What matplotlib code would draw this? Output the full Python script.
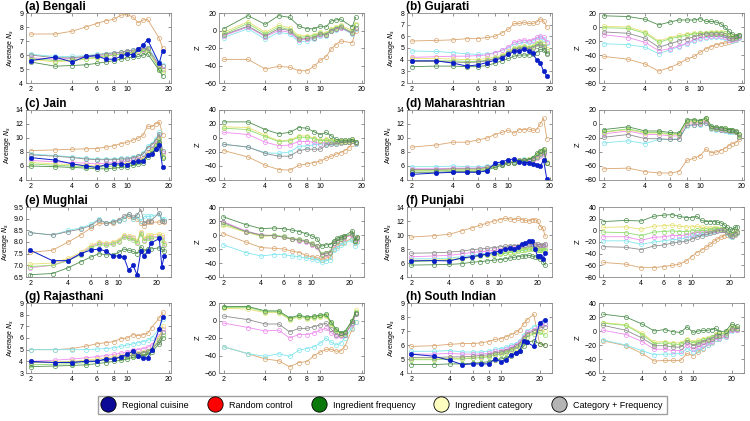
import matplotlib
matplotlib.use("Agg")
import matplotlib.pyplot as plt
from matplotlib.lines import Line2D

plt.rcParams['font.family'] = ['Liberation Sans', 'DejaVu Sans']

# null model colours, in the order the null lists below are written:
# tan, cyan, pink, yellow, light green, gray, dark green
null_colors = ["#D9A56E", "#7FE6EE", "#EE8AEE", "#E6E070", "#8FDC6A", "#8C8C8C", "#4E8E4E"]
blue = "#0A1EC8"

# ---------------- Bengali ----------------
bengali_x = [2, 3, 4, 5, 6, 7, 8, 9, 10, 11, 12, 13, 14, 17, 18]
bengali_regional = [5.6, 5.85, 5.5, 5.9, 5.95, 5.7, 5.7, 5.9, 6.1, 6.0, 6.4, 6.7, 7.1, 5.4, 6.3]
bengali_ns = [
    [7.5, 7.5, 7.7, 8.0, 8.25, 8.45, 8.55, 8.85, 8.9, 8.7, 8.3, 8.5, 8.55, 7.2, 6.5],
    [6.05, 5.9, 5.9, 5.95, 6.05, 6.1, 6.15, 6.2, 6.3, 6.35, 6.4, 6.45, 6.5, 5.5, 5.3],
    [5.8, 5.7, 5.75, 5.85, 5.95, 6.0, 6.05, 6.1, 6.2, 6.25, 6.3, 6.35, 6.4, 5.2, 5.0],
    [5.7, 5.5, 5.6, 5.7, 5.8, 5.9, 6.0, 6.05, 6.1, 6.15, 6.2, 6.3, 6.35, 5.1, 4.9],
    [5.75, 5.6, 5.65, 5.75, 5.85, 5.95, 6.0, 6.05, 6.15, 6.2, 6.25, 6.3, 6.4, 5.0, 4.8],
    [6.0, 5.8, 5.8, 5.9, 6.0, 6.1, 6.15, 6.2, 6.3, 6.35, 6.4, 6.45, 6.5, 5.3, 5.2],
    [5.5, 5.2, 5.25, 5.3, 5.4, 5.5, 5.6, 5.7, 5.8, 5.85, 5.9, 6.0, 6.1, 4.9, 4.5],
]
bengali_z = [
    [-33, -33, -44, -41, -42, -46, -46, -41, -34, -30, -21, -16, -12, -14, -1],
    [-8, 2, -10, -2, -4, -13, -12, -10, -6, -6, -1, 1, 3, -4, 2],
    [-6, 4, -7, 0, -2, -11, -10, -9, -5, -5, 0, 2, 3, -3, 3],
    [-2, 10, -2, 6, 3, -6, -6, -5, -2, -3, 2, 4, 6, 0, 8],
    [-4, 8, -4, 4, 1, -8, -7, -6, -3, -4, 1, 3, 5, -2, 6],
    [-5, 5, -6, 2, 0, -10, -9, -8, -4, -5, 0, 2, 4, -3, 3],
    [2, 17, 7, 17, 15, 5, 2, 2, 5, 4, 11, 12, 13, 4, 15],
]

# ---------------- Gujarati ----------------
gujarati_x = list(range(2, 20))
gujarati_regional = [3.9, 3.9, 3.7, 3.45, 3.55, 3.75, 3.95, 4.15, 4.45, 4.7, 4.75, 4.9, 4.75, 4.55, 4.0, 3.75, 3.0, 2.6]
gujarati_ns = [
    [5.6, 5.65, 5.7, 5.8, 5.8, 5.9, 6.0, 6.3, 6.6, 7.1, 7.1, 7.2, 7.1, 7.1, 7.2, 7.5, 7.3, 6.8],
    [4.75, 4.7, 4.6, 4.5, 4.45, 4.5, 4.6, 4.8, 5.0, 5.3, 5.4, 5.5, 5.5, 5.6, 5.8, 5.9, 5.8, 5.4],
    [4.2, 4.25, 4.3, 4.3, 4.35, 4.4, 4.6, 4.8, 5.1, 5.5, 5.6, 5.7, 5.6, 5.7, 5.9, 6.0, 5.9, 5.5],
    [4.1, 4.1, 4.05, 4.0, 4.0, 4.1, 4.2, 4.4, 4.7, 5.0, 5.1, 5.2, 5.1, 5.2, 5.4, 5.5, 5.3, 4.9],
    [3.9, 3.9, 3.9, 3.85, 3.85, 3.95, 4.1, 4.3, 4.6, 4.9, 5.0, 5.1, 5.0, 5.1, 5.3, 5.4, 5.2, 4.7],
    [3.85, 3.85, 3.8, 3.75, 3.8, 3.9, 4.05, 4.25, 4.55, 4.85, 4.95, 5.0, 4.95, 5.0, 5.2, 5.3, 5.1, 4.6],
    [3.4, 3.45, 3.45, 3.4, 3.4, 3.5, 3.7, 3.9, 4.1, 4.3, 4.4, 4.4, 4.4, 4.5, 4.6, 4.9, 4.8, 4.5],
]
gujarati_z = [
    [-42, -46, -53, -63, -58, -52, -46, -42, -36, -31, -28, -25, -24, -23, -22, -20, -18, -16],
    [-24, -25, -29, -38, -33, -28, -24, -20, -17, -15, -14, -14, -14, -15, -19, -20, -18, -15],
    [-11, -15, -22, -34, -31, -27, -23, -18, -15, -14, -13, -13, -13, -14, -18, -19, -17, -14],
    [1, 0, -7, -20, -15, -12, -10, -9, -8, -8, -7, -7, -7, -8, -12, -14, -13, -11],
    [-1, -2, -9, -22, -17, -14, -12, -10, -9, -9, -8, -8, -8, -9, -13, -15, -14, -12],
    [-7, -9, -16, -29, -24, -20, -17, -14, -11, -10, -10, -10, -10, -12, -15, -17, -16, -13],
    [16, 15, 11, 3, 7, 10, 10, 10, 12, 8, 8, 7, 5, 0, -6, -10, -13, -11],
]

# ---------------- Jain ----------------
jain_x = list(range(2, 19))
jain_regional = [7.2, 6.85, 6.3, 6.0, 5.8, 6.2, 6.3, 6.3, 6.2, 6.6, 6.7, 6.7, 7.6, 7.7, 8.4, 9.0, 5.8]
jain_ns = [
    [8.2, 8.3, 8.4, 8.45, 8.5, 8.7, 8.9, 9.2, 9.4, 9.7, 10.0, 10.4, 11.7, 11.6, 12.0, 12.3, 10.5],
    [7.7, 7.5, 7.3, 7.1, 7.0, 7.0, 7.0, 7.1, 7.1, 7.3, 7.5, 7.8, 8.8, 9.2, 9.8, 10.8, 8.0],
    [6.8, 6.6, 6.5, 6.4, 6.3, 6.4, 6.5, 6.6, 6.7, 6.8, 7.0, 7.2, 8.0, 8.5, 9.2, 10.2, 7.8],
    [6.5, 6.3, 6.2, 6.1, 6.0, 6.1, 6.2, 6.3, 6.4, 6.6, 6.8, 7.0, 7.8, 8.3, 9.0, 10.0, 7.5],
    [6.3, 6.1, 6.0, 5.9, 5.8, 5.9, 6.0, 6.1, 6.2, 6.4, 6.6, 6.8, 7.6, 8.1, 8.8, 9.8, 7.3],
    [7.6, 7.4, 7.2, 7.0, 6.9, 6.9, 6.9, 7.0, 7.0, 7.2, 7.4, 7.7, 8.6, 9.0, 9.6, 10.6, 8.2],
    [6.0, 5.9, 5.8, 5.7, 5.6, 5.6, 5.7, 5.8, 5.9, 6.1, 6.3, 6.5, 7.3, 7.8, 8.5, 9.5, 7.1],
]
jain_z = [
    [-18, -27, -39, -45, -46, -39, -37, -35, -33, -29, -26, -23, -21, -18, -14, -8, -8],
    [-9, -13, -21, -22, -20, -12, -11, -10, -9, -8, -7, -7, -6, -5, -5, -4, -8],
    [8, 5, -6, -11, -10, -5, -5, -6, -8, -6, -6, -6, -6, -5, -5, -4, -7],
    [16, 15, 4, -4, -3, 3, 3, 0, -3, -2, -3, -4, -4, -4, -4, -3, -5],
    [14, 12, 2, -5, -4, 1, 1, -1, -4, -3, -4, -5, -5, -5, -5, -4, -6],
    [-9, -13, -22, -26, -26, -18, -16, -16, -16, -10, -9, -8, -7, -6, -5, -4, -7],
    [23, 23, 12, 6, 8, 15, 14, 9, 5, 8, 3, -2, -3, -3, -3, -2, -6],
]

# ---------------- Maharashtrian ----------------
maha_x = list(range(2, 20))
maha_regional = [4.8, 5.0, 5.1, 5.1, 5.1, 5.3, 6.4, 6.6, 6.9, 7.0, 6.6, 6.5, 6.5, 6.3, 6.2, 6.0, 6.8, 4.1]
maha_ns = [
    [8.7, 9.0, 9.4, 9.4, 9.7, 10.0, 10.5, 10.8, 11.1, 10.7, 11.2, 11.2, 11.3, 11.1, 11.2, 12.0, 12.8, 9.9],
    [5.9, 5.9, 6.0, 5.9, 5.9, 6.0, 6.2, 6.4, 6.6, 6.7, 6.9, 7.0, 7.0, 7.1, 7.3, 7.6, 7.9, 6.5],
    [5.6, 5.6, 5.7, 5.7, 5.7, 5.8, 6.0, 6.2, 6.4, 6.5, 6.7, 6.8, 6.8, 6.9, 7.1, 7.4, 7.7, 6.4],
    [5.4, 5.4, 5.5, 5.5, 5.5, 5.7, 6.0, 6.3, 6.6, 6.6, 6.8, 6.9, 7.0, 7.2, 7.6, 8.0, 8.3, 6.6],
    [5.3, 5.3, 5.4, 5.4, 5.4, 5.6, 5.9, 6.2, 6.5, 6.5, 6.7, 6.8, 6.9, 7.1, 7.5, 7.9, 8.2, 6.4],
    [5.5, 5.5, 5.6, 5.6, 5.6, 5.8, 6.1, 6.3, 6.5, 6.6, 6.8, 6.9, 6.9, 7.0, 7.3, 7.7, 8.0, 6.5],
    [5.1, 5.1, 5.2, 5.2, 5.2, 5.4, 5.8, 6.1, 6.4, 6.5, 6.7, 6.8, 6.9, 7.2, 7.8, 8.2, 8.5, 6.5],
]
maha_z = [
    [-64, -63, -68, -70, -70, -68, -52, -49, -45, -36, -41, -40, -38, -35, -31, -28, -27, -22],
    [-27, -24, -28, -22, -22, -21, -3, -2, -1, 1, -7, -8, -9, -10, -11, -11, -12, -19],
    [-14, -10, -15, -15, -17, -17, 1, 2, 2, 5, -5, -6, -7, -8, -9, -9, -11, -17],
    [-12, -8, -13, -13, -15, -15, 3, 4, 3, 7, -5, -5, -6, -7, -9, -9, -11, -17],
    [-11, -7, -12, -12, -14, -14, 4, 5, 4, 8, -4, -5, -6, -7, -8, -9, -11, -16],
    [-19, -15, -21, -21, -22, -22, -2, -1, 0, 2, -6, -7, -8, -9, -10, -10, -12, -18],
    [-8, -4, -10, -10, -12, -13, 6, 6, 5, 9, -3, -4, -5, -6, -8, -8, -10, -14],
]

# ---------------- Mughlai ----------------
mughlai_x = [2, 3, 4, 5, 6, 7, 8, 9, 10, 11, 12, 13, 14, 15, 16, 17, 18, 21, 22, 23]
mughlai_regional = [7.65, 7.2, 7.2, 7.5, 7.65, 7.7, 7.6, 7.4, 7.4, 7.35, 6.8, 7.0, 6.6, 7.6, 7.4, 7.6, 7.95, 8.15, 6.95, 7.4]
mughlai_ns = [
    [7.55, 7.65, 8.0, 8.3, 8.6, 8.8, 8.8, 8.8, 8.9, 9.0, 9.1, 9.0, 9.0, 8.8, 8.7, 8.85, 8.85, 8.85, 8.9, 8.85],
    [8.4, 8.3, 8.5, 8.6, 8.75, 9.0, 8.8, 8.9, 8.9, 9.0, 9.2, 9.0, 9.1, 8.9, 9.1, 9.1, 9.1, 9.2, 9.0, 9.0],
    [6.9, 7.0, 7.25, 7.5, 7.8, 7.95, 7.9, 7.95, 8.05, 8.25, 8.2, 8.15, 8.0, 8.4, 8.1, 8.2, 8.2, 8.25, 8.2, 7.9],
    [7.05, 7.1, 7.3, 7.55, 7.85, 8.0, 7.95, 8.0, 8.1, 8.3, 8.25, 8.2, 8.05, 8.45, 8.15, 8.3, 8.3, 8.35, 8.3, 7.95],
    [6.95, 7.0, 7.2, 7.45, 7.75, 7.9, 7.85, 7.9, 8.0, 8.2, 8.15, 8.1, 7.95, 8.35, 8.05, 8.15, 8.15, 8.2, 8.1, 7.85],
    [8.4, 8.3, 8.45, 8.55, 8.7, 8.95, 8.8, 8.85, 8.95, 9.1, 9.2, 9.05, 9.15, 9.4, 8.8, 8.9, 8.9, 9.25, 8.9, 8.9],
    [6.6, 6.65, 6.9, 7.15, 7.35, 7.5, 7.45, 7.45, 7.55, 7.7, 7.65, 7.6, 7.5, 7.8, 7.6, 7.7, 7.7, 7.75, 7.7, 7.6],
]
mughlai_z = [
    [2, -10, -18, -19, -20, -23, -25, -29, -31, -32, -35, -33, -32, -20, -16, -12, -10, -5, -12, -8],
    [-14, -25, -30, -28, -28, -30, -31, -33, -34, -35, -39, -37, -35, -22, -18, -14, -12, -7, -15, -10],
    [19, 6, 0, -1, -3, -6, -8, -10, -14, -17, -29, -27, -26, -13, -9, -6, -4, 0, -9, -5],
    [14, 4, -2, -1, -3, -6, -7, -9, -13, -16, -28, -26, -25, -12, -8, -5, -3, 1, -8, -4],
    [16, 5, -1, 0, -2, -5, -6, -8, -12, -15, -27, -25, -24, -11, -7, -4, -2, 2, -7, -3],
    [18, 5, 0, -1, -3, -6, -7, -9, -13, -16, -28, -26, -25, -12, -8, -5, -3, 1, -8, -4],
    [26, 15, 9, 10, 9, 7, 5, 2, -1, -5, -16, -14, -14, -8, -4, -3, -2, 6, -8, -3],
]

# ---------------- Punjabi ----------------
punjabi_x = list(range(2, 24))
punjabi_regional = [6.3, 6.35, 6.3, 6.7, 6.9, 7.1, 7.3, 7.5, 7.7, 8.0, 8.1, 8.0, 8.3, 8.7, 8.9, 9.1, 9.1, 8.0, 7.0, 7.0, 6.6, 7.4]
punjabi_ns = [
    [9.7, 9.9, 10.1, 10.6, 11.0, 11.4, 11.7, 12.0, 12.2, 12.4, 12.3, 12.2, 12.4, 12.2, 12.1, 12.0, 12.2, 12.2, 12.0, 11.2, 11.0, 9.8],
    [6.6, 6.6, 6.7, 6.9, 7.1, 7.3, 7.4, 7.5, 7.6, 7.7, 7.8, 7.9, 8.0, 8.1, 8.2, 8.3, 8.3, 8.3, 8.2, 8.1, 8.1, 8.3],
    [6.9, 7.0, 7.1, 7.3, 7.5, 7.6, 7.7, 7.8, 7.9, 8.0, 8.1, 8.2, 8.3, 8.4, 8.5, 8.6, 8.6, 8.6, 8.5, 8.4, 8.4, 8.6],
    [6.4, 6.4, 6.5, 6.7, 6.9, 7.1, 7.2, 7.3, 7.4, 7.5, 7.6, 7.7, 7.8, 7.9, 8.0, 8.1, 8.1, 8.1, 8.0, 7.9, 7.9, 8.1],
    [6.2, 6.3, 6.4, 6.6, 6.8, 7.0, 7.1, 7.2, 7.3, 7.4, 7.5, 7.6, 7.7, 7.8, 7.9, 8.0, 8.0, 8.0, 7.9, 7.8, 7.8, 7.9],
    [7.4, 7.45, 7.55, 7.7, 7.9, 8.0, 8.1, 8.2, 8.3, 8.4, 8.45, 8.5, 8.5, 8.55, 8.6, 8.7, 8.7, 8.7, 8.65, 8.6, 8.6, 8.7],
    [5.7, 5.75, 5.8, 5.9, 6.1, 6.2, 6.3, 6.4, 6.5, 6.6, 6.7, 6.8, 6.9, 7.0, 7.0, 7.1, 7.0, 6.9, 6.8, 6.6, 6.2, 5.7],
]
punjabi_z = [
    [-55, -58, -64, -64, -62, -60, -58, -53, -45, -38, -34, -29, -24, -19, -15, -12, -9, -8, -10, -12, -8, -5],
    [-18, -18, -24, -20, -18, -16, -15, -13, -10, -7, -6, -4, -3, -1, 0, 1, 0, -4, -9, -11, -7, -4],
    [-11, -11, -17, -12, -11, -9, -9, -8, -6, -4, -3, -2, -1, 0, 1, 1, 0, -3, -7, -9, -5, -3],
    [5, 6, 2, 7, 8, 9, 7, 6, 6, 7, 5, 4, 4, 4, 4, 3, 2, -2, -5, -6, -3, -1],
    [-3, -4, -9, -3, -2, -1, -2, -2, -1, 0, 0, 0, 1, 2, 3, 3, 2, -2, -6, -7, -4, -2],
    [-28, -29, -33, -27, -25, -22, -20, -19, -15, -12, -9, -7, -5, -3, -1, 0, 0, -3, -8, -10, -6, -3],
    [15, 17, 16, 24, 26, 27, 24, 22, 22, 24, 17, 15, 15, 15, 14, 13, 10, 5, 2, 0, 5, 6],
]

# ---------------- Rajasthani ----------------
raj_x = [2, 3, 4, 5, 6, 7, 8, 9, 10, 11, 12, 13, 14, 15, 17, 18]
raj_regional = [4.0, 3.9, 3.9, 4.0, 4.0, 4.2, 4.2, 4.4, 4.6, 4.9, 4.5, 4.3, 4.3, 5.0, 6.8, 7.8]
raj_ns = [
    [5.0, 5.0, 5.1, 5.3, 5.5, 5.6, 5.7, 5.95, 6.0, 6.3, 6.2, 6.3, 6.4, 6.9, 7.7, 8.2],
    [5.0, 5.0, 5.0, 5.0, 5.05, 5.1, 5.15, 5.3, 5.4, 5.5, 5.6, 5.7, 5.8, 6.0, 6.8, 7.6],
    [4.0, 4.1, 4.2, 4.3, 4.4, 4.5, 4.6, 4.7, 4.8, 5.0, 5.0, 5.1, 5.2, 5.4, 6.2, 6.8],
    [3.9, 3.95, 4.0, 4.1, 4.2, 4.3, 4.4, 4.5, 4.6, 4.7, 4.7, 4.8, 4.9, 5.1, 6.0, 7.0],
    [3.7, 3.75, 3.8, 3.9, 4.0, 4.1, 4.2, 4.3, 4.4, 4.5, 4.6, 4.7, 4.8, 5.0, 5.8, 6.3],
    [3.9, 3.9, 3.95, 4.0, 4.05, 4.15, 4.25, 4.35, 4.45, 4.55, 4.65, 4.75, 4.85, 5.0, 5.7, 6.5],
    [3.55, 3.6, 3.65, 3.7, 3.8, 3.9, 4.0, 4.1, 4.2, 4.35, 4.45, 4.5, 4.6, 4.8, 5.5, 6.0],
]
raj_z = [
    [-30, -38, -44, -46, -53, -48, -47, -40, -36, -33, -33, -35, -35, -30, -10, -2],
    [-30, -38, -41, -38, -41, -34, -32, -30, -26, -20, -25, -28, -26, -20, -8, -2],
    [-3, -8, -12, -11, -20, -16, -16, -14, -11, -9, -14, -18, -18, -17, -4, 7],
    [14, 13, 9, 9, 1, 4, 2, 3, 4, 5, -4, -12, -15, -14, 0, 12],
    [15, 15, 10, 10, 2, 5, 3, 4, 5, 6, -3, -11, -14, -14, 0, 10],
    [5, 1, -4, -4, -13, -9, -9, -7, -5, -3, -10, -16, -17, -16, -3, 8],
    [16, 16, 11, 11, 3, 6, 4, 5, 6, 7, -2, -10, -14, -13, 0, 9],
]

# ---------------- South Indian ----------------
south_x = [2, 3, 4, 5, 6, 7, 8, 9, 10, 11, 12, 13, 14, 15, 16, 18, 20, 22]
south_regional = [5.35, 5.2, 4.9, 4.6, 4.65, 4.65, 4.65, 5.0, 4.8, 4.95, 5.3, 5.4, 5.6, 6.3, 6.2, 5.9, 7.6, 7.8]
south_ns = [
    [5.9, 5.95, 6.05, 6.1, 6.1, 6.15, 6.25, 6.4, 6.45, 6.6, 6.75, 6.9, 7.1, 7.5, 7.8, 8.2, 6.1, 6.0],
    [5.55, 5.55, 5.6, 5.5, 5.5, 5.5, 5.55, 5.7, 5.75, 5.85, 6.0, 6.1, 6.3, 6.7, 7.0, 7.3, 7.5, 7.55],
    [5.35, 5.35, 5.4, 5.35, 5.35, 5.35, 5.4, 5.55, 5.6, 5.7, 5.85, 6.0, 6.2, 6.6, 6.9, 7.1, 7.4, 7.5],
    [5.0, 5.0, 5.05, 5.05, 5.1, 5.15, 5.2, 5.35, 5.4, 5.5, 5.65, 5.8, 6.0, 6.4, 6.7, 6.9, 7.0, 7.0],
    [4.95, 4.95, 5.0, 5.0, 5.05, 5.1, 5.15, 5.3, 5.35, 5.45, 5.6, 5.75, 5.95, 6.3, 6.6, 6.8, 6.9, 6.7],
    [5.1, 5.1, 5.15, 5.15, 5.2, 5.25, 5.3, 5.45, 5.5, 5.6, 5.75, 5.9, 6.1, 6.5, 6.8, 7.0, 7.2, 7.3],
    [4.6, 4.6, 4.65, 4.65, 4.7, 4.75, 4.8, 4.95, 5.0, 5.1, 5.25, 5.4, 5.6, 5.9, 6.2, 6.3, 6.1, 6.0],
]
south_z = [
    [-14, -21, -32, -43, -42, -42, -42, -32, -35, -30, -25, -20, -16, -12, -11, -8, 1, 2],
    [-13, -20, -28, -34, -33, -33, -32, -25, -30, -27, -24, -20, -17, -12, -12, -9, 0, 1],
    [1, -5, -15, -26, -26, -28, -28, -20, -26, -23, -20, -17, -14, -9, -10, -7, 1, 2],
    [12, 9, -3, -16, -15, -17, -17, -11, -15, -13, -11, -10, -8, -4, -4, -2, 6, 5],
    [11, 8, -5, -18, -17, -19, -19, -13, -17, -15, -13, -11, -9, -5, -5, -3, 5, 4],
    [8, 1, -10, -21, -21, -23, -23, -15, -21, -18, -15, -13, -11, -7, -7, -5, 3, 3],
    [24, 20, 10, 0, 2, -1, -2, 6, -2, 0, 1, 1, 2, 4, -1, 0, 10, 7],
]

# (title, x, regional, ns, z, ns ylim, ns ticks, z ylim, x max)
panels = [
    ("(a) Bengali", bengali_x, bengali_regional, bengali_ns, bengali_z, (4, 9), [4, 5, 6, 7, 8, 9], (-60, 20), 20.7),
    ("(b) Gujarati", gujarati_x, gujarati_regional, gujarati_ns, gujarati_z, (2, 8), [2, 3, 4, 5, 6, 7, 8], (-80, 20), 20.7),
    ("(c) Jain", jain_x, jain_regional, jain_ns, jain_z, (4, 14), [4, 6, 8, 10, 12, 14], (-60, 40), 20.7),
    ("(d) Maharashtrian", maha_x, maha_regional, maha_ns, maha_z, (4, 14), [4, 6, 8, 10, 12, 14], (-80, 20), 20.7),
    ("(e) Mughlai", mughlai_x, mughlai_regional, mughlai_ns, mughlai_z, (6.5, 9.5), [6.5, 7, 7.5, 8, 8.5, 9, 9.5], (-60, 40), 26),
    ("(f) Punjabi", punjabi_x, punjabi_regional, punjabi_ns, punjabi_z, (4, 14), [4, 6, 8, 10, 12, 14], (-80, 40), 26),
    ("(g) Rajasthani", raj_x, raj_regional, raj_ns, raj_z, (3, 9), [3, 4, 5, 6, 7, 8, 9], (-60, 20), 20.7),
    ("(h) South Indian", south_x, south_regional, south_ns, south_z, (4, 9), [4, 5, 6, 7, 8, 9], (-60, 40), 25),
]

W, H = 750.0, 421.0
col_left = [26, 219, 407, 599]
ax_w = 145
row_top = [13, 110, 207, 303]
ax_h = 70


def style_axis(ax, xmax):
    ax.set_xscale("log")
    ax.set_xlim(1.85, xmax)
    ax.set_xticks([2, 4, 6, 8, 10, 20])
    ax.set_xticklabels(["2", "4", "6", "8", "10", "20"])
    ax.minorticks_off()
    ax.tick_params(direction="in", length=2, width=0.5, labelsize=5, pad=2,
                   top=True, right=True, color="#666666")
    for sp in ax.spines.values():
        sp.set_color("#888888")
        sp.set_linewidth(0.6)


fig = plt.figure(figsize=(7.5, 4.21), dpi=100)

for i, (title, x, reg, ns, z, ns_lim, ns_ticks, z_lim, xmax) in enumerate(panels):
    row = i // 2
    col = (i % 2) * 2
    bottom = 1 - (row_top[row] + ax_h) / H
    ax1 = fig.add_axes([col_left[col] / W, bottom, ax_w / W, ax_h / H])
    ax2 = fig.add_axes([col_left[col + 1] / W, bottom, ax_w / W, ax_h / H])

    for vals, c in zip(ns, null_colors):
        ax1.plot(x, vals, "-o", color=c, lw=0.6, ms=3, mfc="none", mew=0.5)
    ax1.plot(x, reg, "-o", color=blue, lw=0.7, ms=3.2, mfc=blue, mew=0.4)
    style_axis(ax1, xmax)
    ax1.set_ylim(*ns_lim)
    ax1.set_yticks(ns_ticks)
    ax1.set_ylabel("Average $N_s$", fontsize=5, labelpad=2)
    ax1.text(-0.01, 1.045, title, transform=ax1.transAxes, fontsize=8.5,
             fontweight="bold", ha="left", va="baseline")

    for vals, c in zip(z, null_colors):
        ax2.plot(x, vals, "-o", color=c, lw=0.6, ms=3, mfc="none", mew=0.5)
    style_axis(ax2, xmax)
    ax2.set_ylim(*z_lim)
    ax2.set_yticks(list(range(z_lim[0], z_lim[1] + 1, 20)))
    ax2.set_ylabel("Z", fontsize=5.5, labelpad=2)

legend_labels = ["Regional cuisine", "Random control", "Ingredient frequency",
                 "Ingredient category", "Category + Frequency"]
legend_colors = ["#0A0A96", "#FF0000", "#0A780A", "#FFFFC0", "#B4B4B4"]
handles = [Line2D([], [], ls="none", marker="o", ms=11, mfc=c, mec="black", mew=0.6)
           for c in legend_colors]
fig.legend(handles, legend_labels, loc="center", bbox_to_anchor=(0.51, 0.038),
           ncol=5, fontsize=6.5, frameon=True, fancybox=False, edgecolor="#888888",
           handletextpad=0.95, columnspacing=2.3, borderpad=0.45, handlelength=1.2)

fig.savefig("out.png", dpi=100)
